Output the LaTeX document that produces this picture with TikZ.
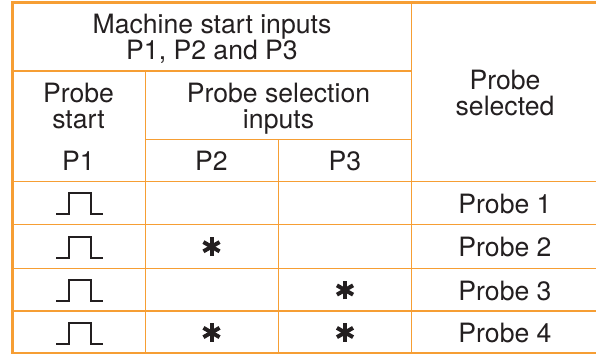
\documentclass[tikz,border=0pt]{standalone}
\usepackage{fontspec}
\setmainfont{TeX Gyre Heros}
\usetikzlibrary{calc}
\definecolor{tblorange}{RGB}{246,158,52}
\definecolor{ink}{RGB}{35,31,32}
\begin{document}
\begin{tikzpicture}[x=1pt,y=-1pt,
  gridline/.style={draw=tblorange,line width=1.3pt},
  txt/.style={anchor=base,inner sep=0pt,text=ink,font=\fontsize{26.6}{27}\selectfont},
  pulseline/.style={draw=ink,line width=2pt},
  starline/.style={draw=ink,line width=4pt}]
\useasboundingbox (0,0) rectangle (596,354);
% grid
\draw[gridline] (12.5,181.3) -- (596,181.3);
\draw[gridline] (12.5,71) -- (411.7,71);
\draw[gridline] (145.3,139.3) -- (411.7,139.3);
\foreach \yy in {224.7,268.3,311,353}
  \draw[gridline] (12.5,\yy) -- (596,\yy);
\draw[gridline] (145.3,71) -- (145.3,354);
\draw[gridline] (278.3,139.3) -- (278.3,354);
\draw[gridline] (411.7,2.5) -- (411.7,354);
\draw[draw=tblorange,line width=2.5pt] (11,2.5) -- (596,2.5);
\draw[draw=tblorange,line width=3pt] (12.5,1.25) -- (12.5,354);
% header texts
\node[txt] (h1a) at (212,33.3) {Machine start inputs};
\node[txt] (h1b) at (212,59.3) {P1, P2 and P3};
\node[txt] (h2a) at (78.5,102.7) {Probe};
\node[txt] (h2b) at (78.5,128.5) {start};
\node[txt] (h3a) at (278.5,102.7) {Probe selection};
\node[txt] (h3b) at (278.5,128.5) {inputs};
\node[txt] (h4a) at (505,89.3) {Probe};
\node[txt] (h4b) at (505,115.3) {selected};
\node[txt] (p1) at (78.5,170.7) {P1};
\node[txt] (p2) at (211.5,170.7) {P2};
\node[txt] (p3) at (345,170.7) {P3};
% rows
\foreach \top/\n in {181.3/1,224.7/2,268.3/3,311/4}{
  \draw[pulseline] (56,\top+32.8) -- (69,\top+32.8) -- (69,\top+12) -- (91,\top+12) -- (91,\top+32.8) -- (103,\top+32.8);
  \node[txt] (r\n) at (505,\top+31.7) {Probe \n};
}
% asterisks
\coordinate (s2) at (211.5,246.7);
\coordinate (s3) at (345,290);
\coordinate (s4a) at (211.5,332.5);
\coordinate (s4b) at (345,332.5);
\foreach \c in {s2,s3,s4a,s4b}
  \foreach \a in {90,30,150}
    \draw[starline] ($(\c)+(\a:9.3)$) -- ($(\c)+(\a+180:9.3)$);
\end{tikzpicture}
\end{document}
